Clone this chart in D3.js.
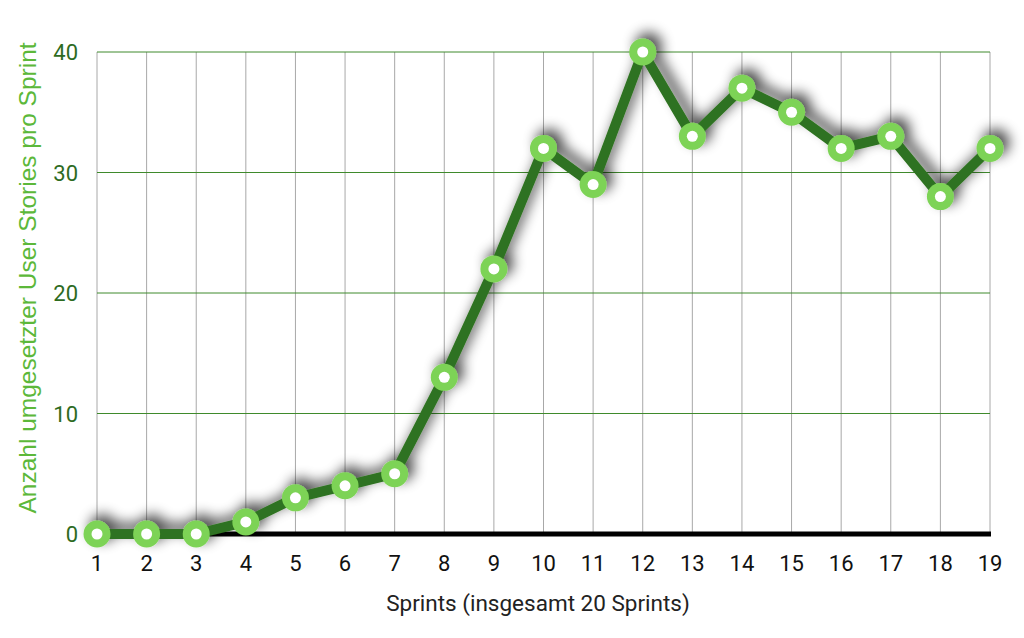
<!DOCTYPE html>
<html><head><meta charset="utf-8">
<script src="https://cdn.jsdelivr.net/npm/d3@7"></script>
<style>body{margin:0;background:#fff;}svg{display:block;}</style>
</head><body>
<svg id="c" width="1024" height="638"></svg>
<script>
const sprints = [1,2,3,4,5,6,7,8,9,10,11,12,13,14,15,16,17,18,19];
const stories = [0,0,0,1,3,4,5,13,22,32,29,40,33,37,35,32,33,28,32];
const yTicks = [0,10,20,30,40];
const xTitle = "Sprints (insgesamt 20 Sprints)";
const yTitle = "Anzahl umgesetzter User Stories pro Sprint";

const svg = d3.select("#c");
const x = d3.scaleLinear().domain([1,19]).range([97,990]);
const y = d3.scaleLinear().domain([0,40]).range([534,52]);

const defs = svg.append("defs");
const f = defs.append("filter").attr("id","sh").attr("x","-50%").attr("y","-50%").attr("width","200%").attr("height","200%");
f.append("feGaussianBlur").attr("in","SourceAlpha").attr("stdDeviation",6.5);
f.append("feOffset").attr("dx",6).attr("dy",-6).attr("result","o");
f.append("feComponentTransfer").append("feFuncA").attr("type","linear").attr("slope",0.7);
const m = f.append("feMerge"); m.append("feMergeNode"); m.append("feMergeNode").attr("in","SourceGraphic");

// vertical grid
svg.append("g").selectAll("line").data(sprints).join("line")
  .attr("x1",d=>x(d)).attr("x2",d=>x(d)).attr("y1",y(40)).attr("y2",y(0))
  .attr("stroke","#a8a8a8").attr("stroke-width",1);
// horizontal grid
svg.append("g").selectAll("line").data(yTicks.filter(d=>d>0)).join("line")
  .attr("x1",x(1)).attr("x2",x(19)).attr("y1",d=>y(d)).attr("y2",d=>y(d))
  .attr("stroke","#3f8a2c").attr("stroke-width",1);
// baseline
svg.append("line").attr("x1",x(1)).attr("x2",x(19)+1).attr("y1",y(0)).attr("y2",y(0))
  .attr("stroke","#000").attr("stroke-width",5);

// y labels
svg.append("g").selectAll("text").data(yTicks).join("text")
  .attr("x",78).attr("y",d=>y(d)+8).attr("text-anchor","end")
  .attr("font-family","Roboto").attr("font-size",22).attr("fill","#2e6b1f").text(d=>d);
// x labels
svg.append("g").selectAll("text").data(sprints).join("text")
  .attr("x",d=>x(d)).attr("y",571).attr("text-anchor","middle")
  .attr("font-family","Roboto").attr("font-size",22).attr("fill","#111").text(d=>d);

svg.append("text").attr("x",538).attr("y",611).attr("text-anchor","middle")
  .attr("font-family","Roboto").attr("font-size",22.5).attr("fill","#222").text(xTitle);
svg.append("text").attr("transform","translate(36,278) rotate(-90)").attr("text-anchor","middle")
  .attr("font-family","Liberation Sans, Arial").attr("font-size",24.5).attr("fill","#5cb83a").text(yTitle);

const g = svg.append("g").attr("filter","url(#sh)");
g.append("path").datum(sprints.map((s,i)=>[s,stories[i]]))
  .attr("d",d3.line().x(d=>x(d[0])).y(d=>y(d[1])))
  .attr("fill","none").attr("stroke","#2f7220").attr("stroke-width",10).attr("stroke-linejoin","round");
g.selectAll("circle.o").data(sprints).join("circle").attr("class","o")
  .attr("cx",d=>x(d)).attr("cy",(d,i)=>y(stories[i])).attr("r",13.5).attr("fill","#7dd356");
svg.append("g").selectAll("circle").data(sprints).join("circle")
  .attr("cx",d=>x(d)).attr("cy",(d,i)=>y(stories[i])).attr("r",5.5).attr("fill","#fff");
</script>
</body></html>
